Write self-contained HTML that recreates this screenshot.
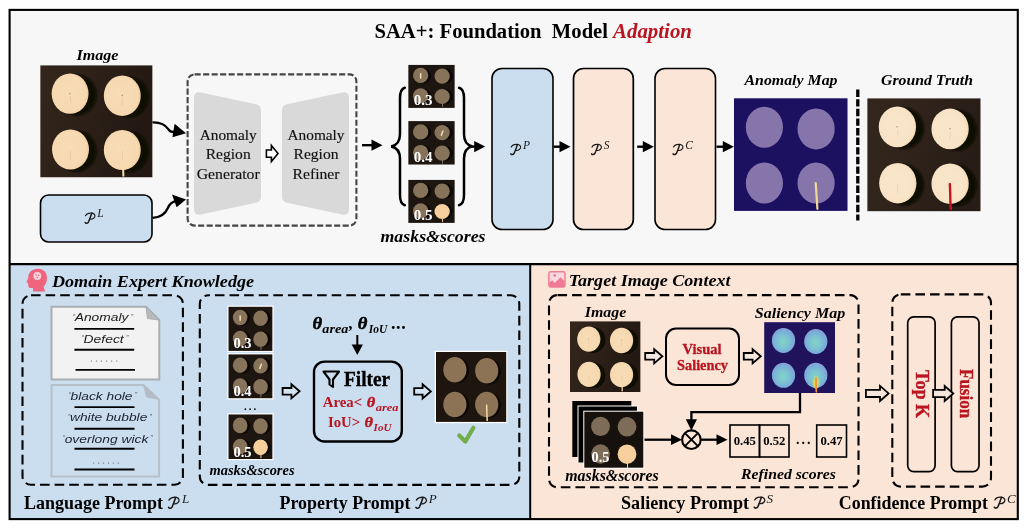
<!DOCTYPE html>
<html><head><meta charset="utf-8"><title>SAA+ framework</title>
<style>
html,body{margin:0;padding:0;background:#fff;}
body{width:1024px;height:529px;overflow:hidden;font-family:"Liberation Serif",serif;}
svg{display:block;will-change:transform;}
text{font-family:"Liberation Serif",serif;}
.s{font-weight:normal;}
.sb{font-weight:bold;}
.si{font-style:italic;}
.sbi{font-weight:bold;font-style:italic;}
.a{font-family:"Liberation Sans",sans-serif;}
.ai{font-family:"Liberation Sans",sans-serif;font-style:italic;}
</style></head><body>
<svg width="1024" height="529" viewBox="0 0 1024 529">

<defs>
<linearGradient id="cbg" x1="0" y1="0" x2="1" y2="0.3">
  <stop offset="0" stop-color="#34261b"/><stop offset="0.55" stop-color="#2b1f17"/><stop offset="1" stop-color="#231912"/>
</linearGradient>
<radialGradient id="cg" cx="0.45" cy="0.5" r="0.56">
  <stop offset="0" stop-color="#f7dcb6"/><stop offset="0.85" stop-color="#f6d9b1"/><stop offset="1" stop-color="#ecc99c"/>
</radialGradient>
<filter id="blur1" x="-20%" y="-20%" width="140%" height="140%"><feGaussianBlur stdDeviation="1.1"/></filter>
<radialGradient id="sal" cx="0.48" cy="0.55" r="0.55">
  <stop offset="0" stop-color="#82d4c6"/><stop offset="0.45" stop-color="#7cc2d2"/><stop offset="0.85" stop-color="#7aa9da"/><stop offset="1" stop-color="#8d9fd6"/>
</radialGradient>
<symbol id="candles" viewBox="0 0 112 113" preserveAspectRatio="none">
  <rect width="112" height="113" fill="url(#cbg)"/>
  <g fill="#0d0805" filter="url(#blur1)">
    <ellipse cx="36.5" cy="30" rx="19.5" ry="20.5"/><ellipse cx="88.5" cy="32" rx="19.5" ry="20.5"/>
    <ellipse cx="36.5" cy="86.5" rx="19.5" ry="20.5"/><ellipse cx="88.5" cy="87" rx="19.5" ry="20.5"/>
  </g>
  <g fill="url(#cg)">
    <ellipse cx="29.8" cy="28.6" rx="18.4" ry="20.3"/><ellipse cx="81.8" cy="30.7" rx="18.4" ry="20.3"/>
    <ellipse cx="30.2" cy="84.8" rx="18.4" ry="20.2"/><ellipse cx="81.8" cy="85.3" rx="18.4" ry="20.2"/>
  </g>
  <g stroke="#e6c79c" stroke-width="1.1" fill="none" opacity="0.75">
    <path d="M30 31 L30.5 38"/><path d="M82 33 L81.5 41"/><path d="M30 86 L30 95"/><path d="M82 86 L82 95"/>
  </g>
  <g fill="#b89a74"><circle cx="29.5" cy="28.6" r="0.8"/><circle cx="81.8" cy="30.4" r="0.8"/></g>
</symbol>
<radialGradient id="cg2" cx="0.45" cy="0.5" r="0.56">
  <stop offset="0" stop-color="#f9e6cb"/><stop offset="0.85" stop-color="#f8e3c6"/><stop offset="1" stop-color="#efd5b2"/>
</radialGradient>
<linearGradient id="cbg2" x1="0" y1="0" x2="1" y2="0.3">
  <stop offset="0" stop-color="#33271d"/><stop offset="0.55" stop-color="#2e221a"/><stop offset="1" stop-color="#281d16"/>
</linearGradient>
<symbol id="candles2" viewBox="0 0 112 113" preserveAspectRatio="none">
  <rect width="112" height="113" fill="url(#cbg2)"/>
  <g fill="#0d0805" filter="url(#blur1)">
    <ellipse cx="36.5" cy="30" rx="19.5" ry="20.5"/><ellipse cx="88.5" cy="32" rx="19.5" ry="20.5"/>
    <ellipse cx="36.5" cy="86.5" rx="19.5" ry="20.5"/><ellipse cx="88.5" cy="87" rx="19.5" ry="20.5"/>
  </g>
  <g fill="url(#cg2)">
    <ellipse cx="29.8" cy="28.6" rx="18.4" ry="20.3"/><ellipse cx="81.8" cy="30.7" rx="18.4" ry="20.3"/>
    <ellipse cx="30.2" cy="84.8" rx="18.4" ry="20.2"/><ellipse cx="81.8" cy="85.3" rx="18.4" ry="20.2"/>
  </g>
  <g stroke="#e9d3b3" stroke-width="1.1" fill="none" opacity="0.75">
    <path d="M30 31 L30.5 38"/><path d="M82 33 L81.5 41"/><path d="M30 86 L30 95"/><path d="M82 86 L82 95"/>
  </g>
  <g fill="#b89a74"><circle cx="29.5" cy="28.6" r="0.8"/><circle cx="81.8" cy="30.4" r="0.8"/></g>
</symbol>
<symbol id="maskbase" viewBox="0 0 46 44" preserveAspectRatio="none">
  <rect width="46" height="44" fill="#1d1510"/>
  <g fill="#0a0705">
    <circle cx="15" cy="11.5" r="7.6"/><circle cx="36.5" cy="11.5" r="7.6"/>
    <circle cx="15" cy="32" r="7.6"/><circle cx="36.5" cy="32.5" r="7.6"/>
  </g>
</symbol>
</defs>

<rect x="0" y="0" width="1024" height="529" fill="#fff"/>
<rect x="9.5" y="10.5" width="1008" height="253.5" fill="#f7f7f7"/>
<rect x="9.5" y="264" width="520.7" height="255" fill="#cbdef0"/>
<rect x="530.2" y="264" width="487.3" height="255" fill="#fbe5d6"/>
<g fill="none" stroke="#000" stroke-width="2"><rect x="9.6" y="9.9" width="1008.2" height="509.2" stroke-width="2.1"/><line x1="9.5" y1="264.2" x2="1017.5" y2="264.2" stroke-width="2.2"/><line x1="530.2" y1="264" x2="530.2" y2="519"/></g>
<text x="374.5" y="38" font-size="20.5" class="sb" textLength="233.5" lengthAdjust="spacingAndGlyphs">SAA+: Foundation&#160;&#160;Model</text>
<text x="613" y="38" font-size="20.5" class="sbi" textLength="79" lengthAdjust="spacingAndGlyphs" fill="#b9141f">Adaption</text>
<text x="97.5" y="59.6" font-size="15.5" class="sbi" textLength="42" lengthAdjust="spacingAndGlyphs" text-anchor="middle">Image</text>
<use href="#candles" x="40.2" y="65.2" width="112.4" height="112.3"/><line x1="122.89" y1="160.61" x2="123.40" y2="176.51" stroke="#f3dcae" stroke-width="2.01"/>
<rect x="40.5" y="195" width="111.5" height="47" rx="8" fill="#cbdef0" stroke="#000" stroke-width="1.6"/>
<g transform="translate(84.5 212.3) scale(1.0)" fill="none" stroke="#1a1a1a" stroke-linecap="round" stroke-linejoin="round"><path d="M1.0 3.4 C2.2 1.1 5.6 0.3 8.0 0.9 C10.8 1.7 11.2 4.4 9.2 5.9 C8.0 6.8 6.6 7.0 5.5 6.8" stroke-width="1.2"/><path d="M7.2 1.0 C6.4 3.6 5.2 7.0 4.0 9.6 C3.2 11.2 1.3 11.5 0.6 10.2" stroke-width="1.5"/></g><text x="97.3" y="217.4" font-size="11.5" class="si" fill="#1a1a1a">L</text>
<path d="M152.5 122.3 C162.5 122 166 125.5 168.5 129.3 C170 131.6 172 132.4 175 131.8" fill="none" stroke="#000" stroke-width="2.3"/>
<path d="M186 133.3 L174.6 123.8 L172.4 137.2 Z" fill="#000"/>
<path d="M152.5 217.8 C162 217.6 166 212.5 168 207.8 C169.6 204 171.8 202 175.5 201.2" fill="none" stroke="#000" stroke-width="2.3"/>
<path d="M186 199.5 L172 194.4 L176.6 207.2 Z" fill="#000"/>
<rect x="187.6" y="74.4" width="168.8" height="151.2" rx="7" fill="none" stroke="#444" stroke-width="2.1" stroke-dasharray="6.1 2.4"/>
<path d="M201 92.6 L256 104.3 Q261 105.4 261 110.5 L261 196.5 Q261 201.6 256 202.7 L201 214.4 Q194 215.8 194 208.8 L194 98.2 Q194 91.2 201 92.6 Z" fill="#d9d9d9"/>
<path d="M342 92.6 L287 104.3 Q282 105.4 282 110.5 L282 196.5 Q282 201.6 287 202.7 L342 214.4 Q349 215.8 349 208.8 L349 98.2 Q349 91.2 342 92.6 Z" fill="#d9d9d9"/>
<text x="228.2" y="140.0" font-size="15.5" class="s" textLength="57" lengthAdjust="spacingAndGlyphs" text-anchor="middle" fill="#111" stroke="#111" stroke-width="0.15">Anomaly</text>
<text x="228.2" y="159.3" font-size="15.5" class="s" textLength="45" lengthAdjust="spacingAndGlyphs" text-anchor="middle" fill="#111" stroke="#111" stroke-width="0.15">Region</text>
<text x="228.2" y="178.6" font-size="15.5" class="s" textLength="63" lengthAdjust="spacingAndGlyphs" text-anchor="middle" fill="#111" stroke="#111" stroke-width="0.15">Generator</text>
<text x="316" y="140.0" font-size="15.5" class="s" textLength="57" lengthAdjust="spacingAndGlyphs" text-anchor="middle" fill="#111" stroke="#111" stroke-width="0.15">Anomaly</text>
<text x="316" y="159.3" font-size="15.5" class="s" textLength="45" lengthAdjust="spacingAndGlyphs" text-anchor="middle" fill="#111" stroke="#111" stroke-width="0.15">Region</text>
<text x="316" y="178.6" font-size="15.5" class="s" textLength="47" lengthAdjust="spacingAndGlyphs" text-anchor="middle" fill="#111" stroke="#111" stroke-width="0.15">Refiner</text>
<path d="M266.4 150.0 L271.4 150.0 L271.4 145.6 L278 153.6 L271.4 161.6 L271.4 157.2 L266.4 157.2 Z" fill="#fff" stroke="#000" stroke-width="1.6" stroke-linejoin="miter"/>
<line x1="362" y1="145.2" x2="372.5" y2="145.2" stroke="#000" stroke-width="2.4"/><path d="M382.5 145.2 L371.5 139.6 L371.5 150.79999999999998 Z" fill="#000"/>
<path d="M404.8 87.8 C401.2 88.8 400 92.5 400 98 L400 134 C400 141 397 145.3 391.2 146.4 C397 147.5 400 151.8 400 158.8 L400 195 C400 200.5 401.2 204.2 404.8 205.2" fill="none" stroke="#000" stroke-width="2.5" stroke-linecap="round"/>
<path d="M459 87.8 C462.6 88.8 464 92.5 464 98 L464 134 C464 141 467 145.3 472.4 146.4 C467 147.5 464 151.8 464 158.8 L464 195 C464 200.5 462.6 204.2 459 205.2" fill="none" stroke="#000" stroke-width="2.5" stroke-linecap="round"/>
<g><use href="#maskbase" x="408.2" y="64.7" width="46.6" height="43.2"/><ellipse cx="420.66" cy="75.40" rx="7.65" ry="7.56" fill="#87725a"/><ellipse cx="442.14" cy="76.09" rx="7.65" ry="7.56" fill="#87725a"/><ellipse cx="420.66" cy="95.82" rx="7.65" ry="7.56" fill="#87725a"/><ellipse cx="442.14" cy="96.51" rx="7.65" ry="7.56" fill="#87725a"/><line x1="442.54" y1="102.01" x2="442.54" y2="106.92" stroke="#87725a" stroke-width="1"/><line x1="420.66" y1="73.83" x2="420.66" y2="77.95" stroke="#f6e0b4" stroke-width="1.5" stroke-linecap="round"/><text x="413.67" y="105.45" font-size="15" class="sb" fill="#fff" textLength="18.8" lengthAdjust="spacingAndGlyphs">0.3</text></g>
<g><use href="#maskbase" x="408.2" y="121.1" width="46.6" height="43.6"/><ellipse cx="420.66" cy="131.90" rx="7.65" ry="7.63" fill="#87725a"/><ellipse cx="442.14" cy="132.59" rx="7.65" ry="7.63" fill="#87725a"/><ellipse cx="420.66" cy="152.51" rx="7.65" ry="7.63" fill="#87725a"/><ellipse cx="442.14" cy="153.21" rx="7.65" ry="7.63" fill="#87725a"/><line x1="442.54" y1="158.75" x2="442.54" y2="163.71" stroke="#87725a" stroke-width="1"/><line x1="442.95" y1="131.01" x2="441.33" y2="135.17" stroke="#f6e0b4" stroke-width="1.5" stroke-linecap="round"/><text x="413.67" y="162.22" font-size="15" class="sb" fill="#fff" textLength="18.8" lengthAdjust="spacingAndGlyphs">0.4</text></g>
<g><use href="#maskbase" x="408.2" y="179.7" width="46.6" height="43.2"/><ellipse cx="420.66" cy="190.40" rx="7.65" ry="7.56" fill="#87725a"/><ellipse cx="442.14" cy="191.09" rx="7.65" ry="7.56" fill="#87725a"/><ellipse cx="420.66" cy="210.82" rx="7.65" ry="7.56" fill="#87725a"/><ellipse cx="442.14" cy="211.51" rx="7.65" ry="7.56" fill="#f6cf9c"/><line x1="442.54" y1="217.01" x2="442.54" y2="221.92" stroke="#f6cf9c" stroke-width="1"/><text x="413.67" y="220.45" font-size="15" class="sb" fill="#fff" textLength="18.8" lengthAdjust="spacingAndGlyphs">0.5</text></g>
<text x="433" y="241.6" font-size="17" class="sbi" textLength="105" lengthAdjust="spacingAndGlyphs" text-anchor="middle">masks&amp;scores</text>
<line x1="469" y1="146.6" x2="475.2" y2="146.6" stroke="#000" stroke-width="2.4"/><path d="M485.2 146.6 L474.2 141.0 L474.2 152.2 Z" fill="#000"/>
<rect x="492" y="68.5" width="61" height="161" rx="10" fill="#cbdef0" stroke="#000" stroke-width="1.6"/>
<rect x="573.5" y="68.5" width="59.8" height="161" rx="10" fill="#fbe5d6" stroke="#000" stroke-width="1.7"/>
<rect x="655" y="68.5" width="60.5" height="161" rx="10" fill="#fbe5d6" stroke="#000" stroke-width="1.6"/>
<g transform="translate(510.2 143.6) scale(1.0)" fill="none" stroke="#1a1a1a" stroke-linecap="round" stroke-linejoin="round"><path d="M1.0 3.4 C2.2 1.1 5.6 0.3 8.0 0.9 C10.8 1.7 11.2 4.4 9.2 5.9 C8.0 6.8 6.6 7.0 5.5 6.8" stroke-width="1.2"/><path d="M7.2 1.0 C6.4 3.6 5.2 7.0 4.0 9.6 C3.2 11.2 1.3 11.5 0.6 10.2" stroke-width="1.5"/></g><text x="523.0" y="148.7" font-size="11.5" class="si" fill="#1a1a1a">P</text>
<g transform="translate(591 143.6) scale(1.0)" fill="none" stroke="#1a1a1a" stroke-linecap="round" stroke-linejoin="round"><path d="M1.0 3.4 C2.2 1.1 5.6 0.3 8.0 0.9 C10.8 1.7 11.2 4.4 9.2 5.9 C8.0 6.8 6.6 7.0 5.5 6.8" stroke-width="1.2"/><path d="M7.2 1.0 C6.4 3.6 5.2 7.0 4.0 9.6 C3.2 11.2 1.3 11.5 0.6 10.2" stroke-width="1.5"/></g><text x="603.8" y="148.7" font-size="11.5" class="si" fill="#1a1a1a">S</text>
<g transform="translate(672.5 143.6) scale(1.0)" fill="none" stroke="#1a1a1a" stroke-linecap="round" stroke-linejoin="round"><path d="M1.0 3.4 C2.2 1.1 5.6 0.3 8.0 0.9 C10.8 1.7 11.2 4.4 9.2 5.9 C8.0 6.8 6.6 7.0 5.5 6.8" stroke-width="1.2"/><path d="M7.2 1.0 C6.4 3.6 5.2 7.0 4.0 9.6 C3.2 11.2 1.3 11.5 0.6 10.2" stroke-width="1.5"/></g><text x="685.3" y="148.7" font-size="11.5" class="si" fill="#1a1a1a">C</text>
<line x1="553.5" y1="146.7" x2="560.5" y2="146.7" stroke="#000" stroke-width="2.4"/><path d="M570.5 146.7 L559.5 141.1 L559.5 152.29999999999998 Z" fill="#000"/>
<line x1="637.2" y1="146.7" x2="643.8" y2="146.7" stroke="#000" stroke-width="2.4"/><path d="M653.8 146.7 L642.8 141.1 L642.8 152.29999999999998 Z" fill="#000"/>
<line x1="716.5" y1="146.7" x2="723.8" y2="146.7" stroke="#000" stroke-width="2.4"/><path d="M733.8 146.7 L722.8 141.1 L722.8 152.29999999999998 Z" fill="#000"/>
<text x="791" y="84.6" font-size="15.5" class="sbi" textLength="93" lengthAdjust="spacingAndGlyphs" text-anchor="middle">Anomaly Map</text>
<rect x="734" y="98.3" width="113.5" height="112.6" fill="#1c1160"/>
<ellipse cx="764.4" cy="127.2" rx="18.6" ry="20.5" fill="#8575aa"/>
<ellipse cx="816.1" cy="128.9" rx="18.6" ry="20.5" fill="#8575aa"/>
<ellipse cx="764.4" cy="183" rx="18.6" ry="20.5" fill="#8575aa"/>
<ellipse cx="816.1" cy="183" rx="18.6" ry="20.5" fill="#8575aa"/>
<path d="M815.7 183 L817.4 208.8" stroke="#f3d891" stroke-width="2.2" stroke-linecap="round" fill="none"/>
<line x1="857.8" y1="89.6" x2="857.8" y2="220.4" stroke="#000" stroke-width="3.3" stroke-dasharray="7.4 2.2"/>
<text x="927" y="84.6" font-size="15.5" class="sbi" textLength="92" lengthAdjust="spacingAndGlyphs" text-anchor="middle">Ground Truth</text>
<use href="#candles2" x="867.2" y="98.2" width="113.5" height="113.2"/>
<path d="M949.8 184 C950.5 192 950 200 950.8 209" stroke="#c4141c" stroke-width="2.4" stroke-linecap="round" fill="none"/>
<path d="M38 268.8 C43.6 268.8 47 272.6 47 278 C47 282 45.6 284.6 43.6 286.6 L45 291.5 L33 291.5 L33 288 C30.4 288.3 28.5 288 28.3 286 L28.1 283.2 L26.4 282.2 L28.2 278.2 C28 272.6 32 268.8 38 268.8 Z" fill="#f0657e"/>
<circle cx="37.3" cy="276" r="3.9" fill="#fbd3da"/><g fill="#f0657e"><circle cx="36" cy="275" r="0.8"/><circle cx="38.8" cy="275.2" r="0.8"/><circle cx="37.3" cy="277.6" r="0.8"/></g>
<text x="52" y="286.5" font-size="17.7" class="sbi" textLength="202" lengthAdjust="spacingAndGlyphs">Domain Expert Knowledge</text>
<rect x="22.5" y="295.3" width="160.4" height="189.5" rx="8.5" fill="none" stroke="#000" stroke-width="2.1" stroke-dasharray="9.6 5"/>
<path d="M51.5 306.8 L146 306.8 L159.3 320 L159.3 379.4 L51.5 379.4 Z" fill="#f2f2f2" stroke="#a9aeb3" stroke-width="2"/>
<path d="M146 306.8 L147.5 318.5 L159.3 320 Z" fill="#b9b9b9" stroke="#a9aeb3" stroke-width="1"/>
<text x="74.7" y="321.4" font-size="11.2" class="ai" textLength="53.8" lengthAdjust="spacingAndGlyphs" fill="#1c1c1c">Anomaly</text><text x="72.7" y="318.79999999999995" font-size="7" class="ai" fill="#555">&#8220;</text><text x="130.7" y="318.79999999999995" font-size="7" class="ai" fill="#555">&#8221;</text>
<text x="83.6" y="342.6" font-size="11.2" class="ai" textLength="40.1" lengthAdjust="spacingAndGlyphs" fill="#1c1c1c">Defect</text><text x="81.6" y="340.0" font-size="7" class="ai" fill="#555">&#8220;</text><text x="125.9" y="340.0" font-size="7" class="ai" fill="#555">&#8221;</text>
<circle cx="91.30" cy="361" r="0.62" fill="#555"/><circle cx="96.40" cy="361" r="0.62" fill="#555"/><circle cx="101.50" cy="361" r="0.62" fill="#555"/><circle cx="106.60" cy="361" r="0.62" fill="#555"/><circle cx="111.70" cy="361" r="0.62" fill="#555"/><circle cx="116.80" cy="361" r="0.62" fill="#555"/>
<line x1="74.4" y1="328.9" x2="134.2" y2="328.9" stroke="#000" stroke-width="1.9"/>
<line x1="74.4" y1="349.8" x2="134.2" y2="349.8" stroke="#000" stroke-width="1.9"/>
<line x1="75.5" y1="369.9" x2="135" y2="369.9" stroke="#000" stroke-width="1.9"/>
<path d="M51.5 384.9 L143.5 384.9 L159.1 399.6 L159.1 476.4 L51.5 476.4 Z" fill="#cbdef0" stroke="#b7c0c9" stroke-width="2"/>
<path d="M143.5 384.9 L146.5 397 L159.1 399.6 Z" fill="#b3bcc6" stroke="#b7c0c9" stroke-width="1"/>
<text x="70.6" y="400" font-size="11.2" class="ai" textLength="61.9" lengthAdjust="spacingAndGlyphs" fill="#1a2230">black hole</text><text x="68.6" y="397.4" font-size="7" class="ai" fill="#555">&#8220;</text><text x="134.7" y="397.4" font-size="7" class="ai" fill="#555">&#8221;</text>
<text x="70" y="421.3" font-size="11.2" class="ai" textLength="77.3" lengthAdjust="spacingAndGlyphs" fill="#1a2230">white bubble</text><text x="68.0" y="418.7" font-size="7" class="ai" fill="#555">&#8220;</text><text x="149.5" y="418.7" font-size="7" class="ai" fill="#555">&#8221;</text>
<text x="64.7" y="442.5" font-size="11.2" class="ai" textLength="83.6" lengthAdjust="spacingAndGlyphs" fill="#1a2230">overlong wick</text><text x="62.7" y="439.9" font-size="7" class="ai" fill="#555">&#8220;</text><text x="150.5" y="439.9" font-size="7" class="ai" fill="#555">&#8221;</text>
<circle cx="93.70" cy="463" r="0.62" fill="#555"/><circle cx="98.62" cy="463" r="0.62" fill="#555"/><circle cx="103.54" cy="463" r="0.62" fill="#555"/><circle cx="108.46" cy="463" r="0.62" fill="#555"/><circle cx="113.38" cy="463" r="0.62" fill="#555"/><circle cx="118.30" cy="463" r="0.62" fill="#555"/>
<line x1="74.5" y1="407.1" x2="134.5" y2="407.1" stroke="#000" stroke-width="1.9"/>
<line x1="74.5" y1="428.8" x2="134.5" y2="428.8" stroke="#000" stroke-width="1.9"/>
<line x1="74.5" y1="448.8" x2="134.5" y2="448.8" stroke="#000" stroke-width="1.9"/>
<line x1="74.5" y1="469.5" x2="134.5" y2="469.5" stroke="#000" stroke-width="1.9"/>
<text x="24" y="509" font-size="18" class="sb" textLength="139" lengthAdjust="spacingAndGlyphs">Language Prompt</text>
<g transform="translate(167.9 496.5) scale(1.0701754385964912)" fill="none" stroke="#1a1a1a" stroke-linecap="round" stroke-linejoin="round"><path d="M1.0 3.4 C2.2 1.1 5.6 0.3 8.0 0.9 C10.8 1.7 11.2 4.4 9.2 5.9 C8.0 6.8 6.6 7.0 5.5 6.8" stroke-width="1.2"/><path d="M7.2 1.0 C6.4 3.6 5.2 7.0 4.0 9.6 C3.2 11.2 1.3 11.5 0.6 10.2" stroke-width="1.5"/></g><text x="182.0" y="502.9" font-size="13" class="si" fill="#1a1a1a">L</text>
<rect x="199.8" y="295.3" width="319.5" height="189.6" rx="8.5" fill="none" stroke="#000" stroke-width="2.1" stroke-dasharray="9.6 5" stroke-dashoffset="8"/>
<g><rect x="227.3" y="305.6" width="46.3" height="46.3" fill="#fff"/><use href="#maskbase" x="228.3" y="306.6" width="44.3" height="44.3"/><ellipse cx="240.15" cy="317.57" rx="7.27" ry="7.75" fill="#87725a"/><ellipse cx="260.56" cy="318.28" rx="7.27" ry="7.75" fill="#87725a"/><ellipse cx="240.15" cy="338.52" rx="7.27" ry="7.75" fill="#87725a"/><ellipse cx="260.56" cy="339.22" rx="7.27" ry="7.75" fill="#87725a"/><line x1="260.95" y1="344.86" x2="260.95" y2="349.89" stroke="#87725a" stroke-width="1"/><line x1="240.15" y1="315.96" x2="240.15" y2="320.19" stroke="#f6e0b4" stroke-width="1.5" stroke-linecap="round"/><text x="233.50" y="348.38" font-size="14.5" class="sb" fill="#fff" textLength="18.1" lengthAdjust="spacingAndGlyphs">0.3</text></g>
<g><rect x="227.3" y="353.2" width="46.3" height="46.2" fill="#fff"/><use href="#maskbase" x="228.3" y="354.2" width="44.3" height="44.2"/><ellipse cx="240.15" cy="365.15" rx="7.27" ry="7.74" fill="#87725a"/><ellipse cx="260.56" cy="365.85" rx="7.27" ry="7.74" fill="#87725a"/><ellipse cx="240.15" cy="386.04" rx="7.27" ry="7.74" fill="#87725a"/><ellipse cx="260.56" cy="386.75" rx="7.27" ry="7.74" fill="#87725a"/><line x1="260.95" y1="392.37" x2="260.95" y2="397.40" stroke="#87725a" stroke-width="1"/><line x1="261.33" y1="364.25" x2="259.79" y2="368.46" stroke="#f6e0b4" stroke-width="1.5" stroke-linecap="round"/><text x="233.50" y="395.89" font-size="14.5" class="sb" fill="#fff" textLength="18.1" lengthAdjust="spacingAndGlyphs">0.4</text></g>
<text x="251" y="409.5" font-size="11" class="sb" text-anchor="middle" letter-spacing="2">...</text>
<g><rect x="227.3" y="413.3" width="46.3" height="46.8" fill="#fff"/><use href="#maskbase" x="228.3" y="414.3" width="44.3" height="44.8"/><ellipse cx="240.15" cy="425.40" rx="7.27" ry="7.84" fill="#87725a"/><ellipse cx="260.56" cy="426.11" rx="7.27" ry="7.84" fill="#87725a"/><ellipse cx="240.15" cy="446.58" rx="7.27" ry="7.84" fill="#87725a"/><ellipse cx="260.56" cy="447.29" rx="7.27" ry="7.84" fill="#f6cf9c"/><line x1="260.95" y1="452.99" x2="260.95" y2="458.08" stroke="#f6cf9c" stroke-width="1"/><text x="233.50" y="456.55" font-size="14.5" class="sb" fill="#fff" textLength="18.1" lengthAdjust="spacingAndGlyphs">0.5</text></g>
<text x="252" y="474.8" font-size="15" class="sbi" textLength="85" lengthAdjust="spacingAndGlyphs" text-anchor="middle">masks&amp;scores</text>
<path d="M282.6 388.0 L291.40000000000003 388.0 L291.40000000000003 384.2 L299.6 391.3 L291.40000000000003 398.40000000000003 L291.40000000000003 394.6 L282.6 394.6 Z" fill="#d3e3f2" stroke="#000" stroke-width="1.8" stroke-linejoin="miter"/>
<text x="312.5" y="329" font-size="16.5" class="sbi" textLength="9.6" lengthAdjust="spacingAndGlyphs" stroke="#000" stroke-width="0.45">&#952;</text>
<text x="322.3" y="332.5" font-size="11.5" class="sbi" textLength="26" lengthAdjust="spacingAndGlyphs">area</text>
<text x="349" y="329" font-size="17" class="sbi">,</text>
<text x="357.8" y="329" font-size="16.5" class="sbi" textLength="9.6" lengthAdjust="spacingAndGlyphs" stroke="#000" stroke-width="0.45">&#952;</text>
<text x="368.8" y="332.5" font-size="11.5" class="sbi" textLength="18.5" lengthAdjust="spacingAndGlyphs">IoU</text>
<text x="391" y="329" font-size="18" class="sb" letter-spacing="0.6">...</text>
<line x1="357.3" y1="335" x2="357.3" y2="346" stroke="#000" stroke-width="2"/><path d="M357.3 355 L351.7 344.5 L362.9 344.5 Z" fill="#000"/>
<rect x="314" y="361.6" width="87.8" height="79.9" rx="10.5" fill="none" stroke="#000" stroke-width="2.4"/>
<path d="M323.5 371.5 L339 371.5 L333 379.5 L333 387 L329.5 384.5 L329.5 379.5 Z" fill="none" stroke="#000" stroke-width="2.1" stroke-linejoin="round"/>
<text x="344" y="385.6" font-size="20.5" class="sb" textLength="46.2" lengthAdjust="spacingAndGlyphs" stroke="#000" stroke-width="0.35">Filter</text>
<text x="322.7" y="407.3" font-size="14.5" class="sb" textLength="39.5" lengthAdjust="spacingAndGlyphs" fill="#b9141f">Area&lt;</text>
<text x="366.8" y="407.3" font-size="14.5" class="sbi" textLength="8.4" lengthAdjust="spacingAndGlyphs" fill="#b9141f" stroke="#b9141f" stroke-width="0.4">&#952;</text>
<text x="375.8" y="411" font-size="10.5" class="sbi" textLength="22.8" lengthAdjust="spacingAndGlyphs" fill="#b9141f">area</text>
<text x="328" y="427.2" font-size="14.5" class="sb" textLength="32.2" lengthAdjust="spacingAndGlyphs" fill="#b9141f">IoU&gt;</text>
<text x="364.6" y="427.2" font-size="14.5" class="sbi" textLength="8.4" lengthAdjust="spacingAndGlyphs" fill="#b9141f" stroke="#b9141f" stroke-width="0.4">&#952;</text>
<text x="373.6" y="431" font-size="10.5" class="sbi" textLength="17.8" lengthAdjust="spacingAndGlyphs" fill="#b9141f">IoU</text>
<path d="M414.2 388.09999999999997 L422.6 388.09999999999997 L422.6 384.29999999999995 L430.8 391.4 L422.6 398.5 L422.6 394.7 L414.2 394.7 Z" fill="#d3e3f2" stroke="#000" stroke-width="1.8" stroke-linejoin="miter"/>
<rect x="434.7" y="350.8" width="72.6" height="72.4" fill="#fff"/>
<rect x="436" y="352" width="70.2" height="69.9" fill="#1e150f"/>
<ellipse cx="457.29999999999995" cy="370.5" rx="11.6" ry="12.8" fill="#090604"/>
<ellipse cx="489.09999999999997" cy="371.6" rx="11.6" ry="12.8" fill="#090604"/>
<ellipse cx="457.29999999999995" cy="405.3" rx="11.6" ry="12.8" fill="#090604"/>
<ellipse cx="489.09999999999997" cy="405.3" rx="11.6" ry="12.8" fill="#090604"/>
<ellipse cx="454.9" cy="369.7" rx="11.6" ry="12.8" fill="#8c7355"/>
<ellipse cx="486.7" cy="370.8" rx="11.6" ry="12.8" fill="#8c7355"/>
<ellipse cx="454.9" cy="404.5" rx="11.6" ry="12.8" fill="#8c7355"/>
<ellipse cx="486.7" cy="404.5" rx="11.6" ry="12.8" fill="#8c7355"/>
<line x1="486.6" y1="404.5" x2="487.2" y2="421" stroke="#f5d9a9" stroke-width="1.5"/>
<path d="M459.3 435.6 L465.3 441.6 L473.4 427.8" fill="none" stroke="#72ad4c" stroke-width="4.2" stroke-linecap="round" stroke-linejoin="round"/>
<text x="279.5" y="509" font-size="18" class="sb" textLength="131" lengthAdjust="spacingAndGlyphs">Property Prompt</text>
<g transform="translate(415.3 496.5) scale(1.0701754385964912)" fill="none" stroke="#1a1a1a" stroke-linecap="round" stroke-linejoin="round"><path d="M1.0 3.4 C2.2 1.1 5.6 0.3 8.0 0.9 C10.8 1.7 11.2 4.4 9.2 5.9 C8.0 6.8 6.6 7.0 5.5 6.8" stroke-width="1.2"/><path d="M7.2 1.0 C6.4 3.6 5.2 7.0 4.0 9.6 C3.2 11.2 1.3 11.5 0.6 10.2" stroke-width="1.5"/></g><text x="428.7" y="502.9" font-size="13" class="si" fill="#1a1a1a">P</text>
<g transform="translate(548.2 271.1)"><rect x="0.7" y="0.7" width="16.1" height="15.1" rx="1.6" fill="#fbd8de" stroke="#ee7f98" stroke-width="1.5"/><path d="M1 16 L1 11.5 L4 9.2 L6.5 11.8 L12.3 6.2 L16.5 10.5 L16.5 16 Z" fill="#ef7a94"/><circle cx="6.5" cy="4.4" r="1.25" fill="#e6728c"/></g>
<text x="568.7" y="285.8" font-size="17.7" class="sbi" textLength="161.8" lengthAdjust="spacingAndGlyphs">Target Image Context</text>
<rect x="549" y="295.1" width="309.5" height="192.2" rx="8.5" fill="none" stroke="#000" stroke-width="2.1" stroke-dasharray="9.6 5"/>
<text x="605.5" y="317" font-size="15" class="sbi" textLength="41.5" lengthAdjust="spacingAndGlyphs" text-anchor="middle">Image</text>
<use href="#candles" x="570" y="321.2" width="70.6" height="70.8"/><line x1="621.94" y1="381.35" x2="622.26" y2="391.37" stroke="#f3dcae" stroke-width="1.26"/>
<path d="M645.2 353.0 L654.1999999999999 353.0 L654.1999999999999 349.2 L662.4 356.3 L654.1999999999999 363.40000000000003 L654.1999999999999 359.6 L645.2 359.6 Z" fill="#f6e8df" stroke="#000" stroke-width="1.8" stroke-linejoin="miter"/>
<rect x="666" y="328.5" width="73" height="56.5" rx="10" fill="none" stroke="#000" stroke-width="2"/>
<text x="702" y="353.5" font-size="14.5" class="sb" textLength="39" lengthAdjust="spacingAndGlyphs" text-anchor="middle" fill="#b9141f" stroke="#b9141f" stroke-width="0.3">Visual</text>
<text x="702.5" y="370" font-size="14.5" class="sb" textLength="51" lengthAdjust="spacingAndGlyphs" text-anchor="middle" fill="#b9141f" stroke="#b9141f" stroke-width="0.3">Saliency</text>
<path d="M743.8 353.0 L752.5999999999999 353.0 L752.5999999999999 349.2 L760.8 356.3 L752.5999999999999 363.40000000000003 L752.5999999999999 359.6 L743.8 359.6 Z" fill="#f6e8df" stroke="#000" stroke-width="1.8" stroke-linejoin="miter"/>
<text x="800" y="317.5" font-size="15" class="sbi" textLength="90.5" lengthAdjust="spacingAndGlyphs" text-anchor="middle">Saliency Map</text>
<rect x="764.2" y="322.2" width="70.8" height="70.8" fill="#20135c"/>
<ellipse cx="783.5" cy="340.4" rx="11.6" ry="12.5" fill="url(#sal)"/>
<ellipse cx="815.8" cy="341.5" rx="11.6" ry="12.5" fill="url(#sal)"/>
<ellipse cx="783.5" cy="375.3" rx="11.6" ry="12.5" fill="url(#sal)"/>
<ellipse cx="815.8" cy="375.3" rx="11.6" ry="12.5" fill="url(#sal)"/>
<ellipse cx="816" cy="382.5" rx="3.6" ry="6.5" fill="#b9dc7a" opacity="0.75"/>
<ellipse cx="816" cy="383.5" rx="2.1" ry="5" fill="#f2d24e" opacity="0.85"/>
<path d="M816 378 L816.3 391.8" stroke="#f0913a" stroke-width="1.7" stroke-linecap="round"/>
<rect x="572.3" y="401" width="59" height="56" fill="#000"/><rect x="577.5" y="405.5" width="60" height="57" fill="#fff"/><rect x="578.5" y="406.5" width="58.5" height="56" fill="#000"/>
<rect x="583.3" y="410.7" width="61" height="58" fill="#fff"/><rect x="584.3" y="411.7" width="59" height="56" fill="#17110d"/>
<ellipse cx="600.5" cy="426.4" rx="9.4" ry="9.7" fill="#7d6c58"/>
<ellipse cx="627" cy="426.8" rx="9.4" ry="9.7" fill="#7d6c58"/>
<ellipse cx="600.5" cy="454" rx="9.4" ry="9.7" fill="#7d6c58"/>
<ellipse cx="627" cy="454.2" rx="9.4" ry="9.7" fill="#f6cf9c"/>
<line x1="627.5" y1="463" x2="627.5" y2="468" stroke="#f6cf9c" stroke-width="1"/>
<text x="591.6" y="462.3" font-size="14.5" class="sb" textLength="17.8" lengthAdjust="spacingAndGlyphs" fill="#fff">0.5</text>
<text x="612" y="481.3" font-size="16" class="sbi" textLength="93.5" lengthAdjust="spacingAndGlyphs" text-anchor="middle">masks&amp;scores</text>
<line x1="644.5" y1="439.7" x2="672" y2="439.7" stroke="#000" stroke-width="2.3"/><path d="M682 439.7 L671 434.3 L671 445.09999999999997 Z" fill="#000"/>
<circle cx="691.4" cy="439.7" r="9.3" fill="none" stroke="#000" stroke-width="2.1"/><path d="M684.9 433.2 L697.9 446.2 M697.9 433.2 L684.9 446.2" stroke="#000" stroke-width="1.9"/>
<line x1="701" y1="439.7" x2="717.5" y2="439.7" stroke="#000" stroke-width="2.3"/><path d="M727.5 439.7 L716.5 434.3 L716.5 445.09999999999997 Z" fill="#000"/>
<path d="M800 393 L800 412.2 L691.4 412.2 L691.4 421" fill="none" stroke="#000" stroke-width="2.3"/><path d="M691.4 430.5 L685.8 419.3 L697 419.3 Z" fill="#000"/>
<g fill="none" stroke="#000" stroke-width="1.6"><rect x="730" y="425" width="29.5" height="32"/><rect x="759.5" y="425" width="29.5" height="32"/><rect x="816.7" y="425" width="29.8" height="32"/></g>
<text x="744.8" y="445.3" font-size="12" class="sb" textLength="22.3" lengthAdjust="spacingAndGlyphs" text-anchor="middle">0.45</text>
<text x="774.3" y="445.3" font-size="12" class="sb" textLength="22.3" lengthAdjust="spacingAndGlyphs" text-anchor="middle">0.52</text>
<text x="831.6" y="445.3" font-size="12" class="sb" textLength="22.3" lengthAdjust="spacingAndGlyphs" text-anchor="middle">0.47</text>
<text x="804.2" y="444" font-size="14" class="sb" text-anchor="middle" letter-spacing="2">...</text>
<text x="788.5" y="478.7" font-size="15.5" class="sbi" textLength="95" lengthAdjust="spacingAndGlyphs" text-anchor="middle">Refined scores</text>
<text x="621" y="508.5" font-size="18" class="sb" textLength="128" lengthAdjust="spacingAndGlyphs">Saliency Prompt</text>
<g transform="translate(753.6 496.3) scale(1.0701754385964912)" fill="none" stroke="#1a1a1a" stroke-linecap="round" stroke-linejoin="round"><path d="M1.0 3.4 C2.2 1.1 5.6 0.3 8.0 0.9 C10.8 1.7 11.2 4.4 9.2 5.9 C8.0 6.8 6.6 7.0 5.5 6.8" stroke-width="1.2"/><path d="M7.2 1.0 C6.4 3.6 5.2 7.0 4.0 9.6 C3.2 11.2 1.3 11.5 0.6 10.2" stroke-width="1.5"/></g><text x="766.6" y="502.7" font-size="13" class="si" fill="#1a1a1a">S</text>
<path d="M865.9 389.79999999999995 L880.0 389.79999999999995 L880.0 385.9 L888.6 393.4 L880.0 400.9 L880.0 397.0 L865.9 397.0 Z" fill="#f6e6dc" stroke="#000" stroke-width="1.8" stroke-linejoin="miter"/>
<rect x="892.3" y="294.4" width="98.7" height="192.2" rx="8.5" fill="none" stroke="#000" stroke-width="2.1" stroke-dasharray="9.6 5"/>
<rect x="907.7" y="316.8" width="27.4" height="154.8" rx="6" fill="none" stroke="#000" stroke-width="1.7"/>
<rect x="951.4" y="316.8" width="27.6" height="154.8" rx="6" fill="none" stroke="#000" stroke-width="1.7"/>
<text transform="translate(916.1 394.1) rotate(90)" text-anchor="middle" font-size="18.2" class="sb" fill="#b9141f" stroke="#b9141f" stroke-width="0.35" textLength="48.2" lengthAdjust="spacingAndGlyphs">Top K</text>
<text transform="translate(960.2 393.6) rotate(90)" text-anchor="middle" font-size="18.5" class="sb" fill="#b9141f" stroke="#b9141f" stroke-width="0.35" textLength="49.2" lengthAdjust="spacingAndGlyphs">Fusion</text>
<path d="M933.1 389.9 L944.6999999999999 389.9 L944.6999999999999 386.0 L953.3 393.5 L944.6999999999999 401.0 L944.6999999999999 397.1 L933.1 397.1 Z" fill="#f4e5db" stroke="#000" stroke-width="1.8" stroke-linejoin="miter"/>
<text x="838.8" y="508.5" font-size="18" class="sb" textLength="149.2" lengthAdjust="spacingAndGlyphs">Confidence Prompt</text>
<g transform="translate(993.7 496.3) scale(1.0701754385964912)" fill="none" stroke="#1a1a1a" stroke-linecap="round" stroke-linejoin="round"><path d="M1.0 3.4 C2.2 1.1 5.6 0.3 8.0 0.9 C10.8 1.7 11.2 4.4 9.2 5.9 C8.0 6.8 6.6 7.0 5.5 6.8" stroke-width="1.2"/><path d="M7.2 1.0 C6.4 3.6 5.2 7.0 4.0 9.6 C3.2 11.2 1.3 11.5 0.6 10.2" stroke-width="1.5"/></g><text x="1006.9000000000001" y="502.7" font-size="13" class="si" fill="#1a1a1a">C</text>
</svg>
</body></html>
